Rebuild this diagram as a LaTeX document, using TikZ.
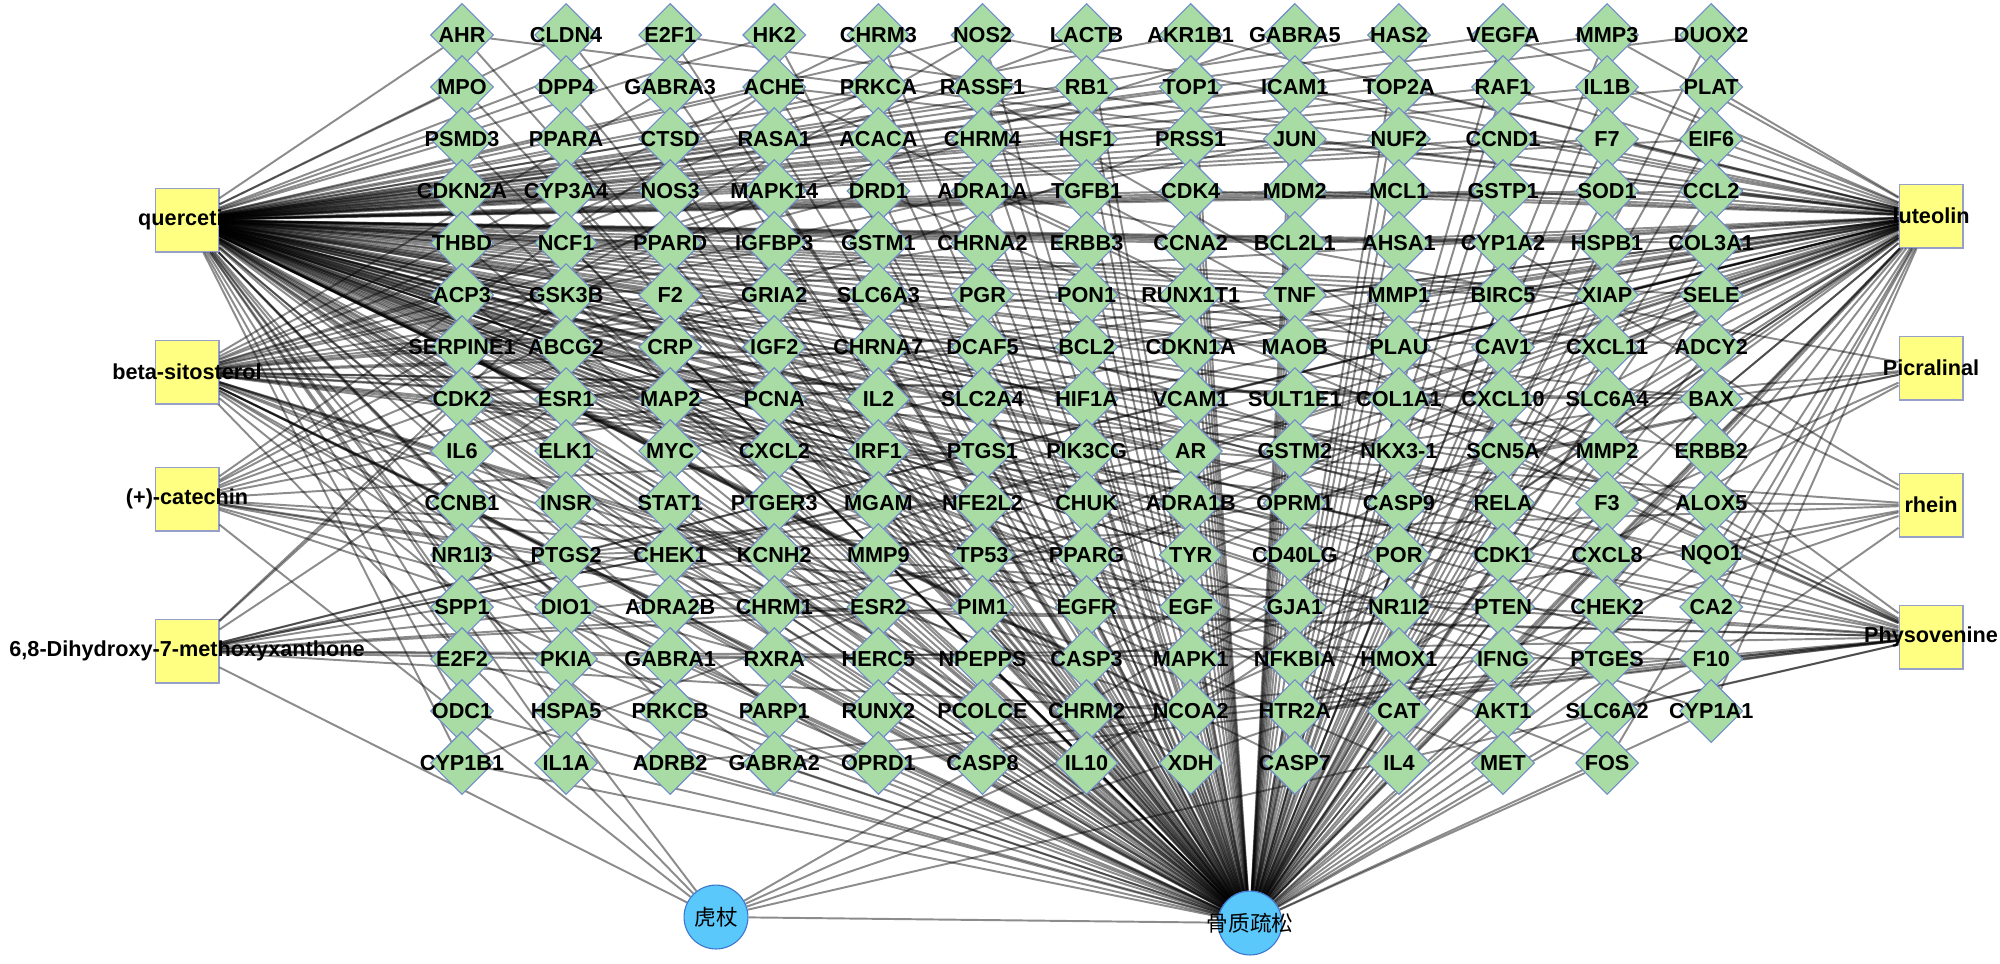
\documentclass[tikz,border=0pt]{standalone}
\usepackage{fontspec}
\setmainfont{Liberation Sans}
\newfontfamily\cjk{Noto Sans CJK SC}
\usetikzlibrary{shapes.geometric}
\pgfdeclarelayer{edgel}
\pgfdeclarelayer{diam}
\pgfdeclarelayer{lab}
\pgfsetlayers{main,edgel,diam,lab}
\definecolor{dgreen}{RGB}{168,220,164}
\definecolor{dborder}{RGB}{112,140,200}
\definecolor{cyel}{RGB}{255,255,130}
\definecolor{sqborder}{RGB}{150,160,200}
\definecolor{cblue}{RGB}{90,200,250}
\definecolor{bborder}{RGB}{60,120,210}
\tikzset{
  tgt/.style={diamond, draw=dborder, line width=0.4pt, fill=dgreen, minimum width=22.7pt, minimum height=22.7pt, inner sep=0pt},
  tlab/.style={font=\fontsize{7.8}{8}\selectfont\bfseries, inner sep=0pt},
  cmp/.style={rectangle, draw=sqborder, line width=0.4pt, fill=cyel, minimum size=23pt, inner sep=0pt},
  hub/.style={circle, draw=bborder, line width=0.4pt, fill=cblue, minimum size=23pt, inner sep=0pt},
  hlab/.style={font=\fontsize{7.8}{8}\selectfont\cjk, inner sep=0pt},
  edge/.style={draw=black, opacity=0.45, line width=0.7pt},
}
\def\allrows{1/{AHR,CLDN4,E2F1,HK2,CHRM3,NOS2,LACTB,AKR1B1,GABRA5,HAS2,VEGFA,MMP3,DUOX2},
2/{MPO,DPP4,GABRA3,ACHE,PRKCA,RASSF1,RB1,TOP1,ICAM1,TOP2A,RAF1,IL1B,PLAT},
3/{PSMD3,PPARA,CTSD,RASA1,ACACA,CHRM4,HSF1,PRSS1,JUN,NUF2,CCND1,F7,EIF6},
4/{CDKN2A,CYP3A4,NOS3,MAPK14,DRD1,ADRA1A,TGFB1,CDK4,MDM2,MCL1,GSTP1,SOD1,CCL2},
5/{THBD,NCF1,PPARD,IGFBP3,GSTM1,CHRNA2,ERBB3,CCNA2,BCL2L1,AHSA1,CYP1A2,HSPB1,COL3A1},
6/{ACP3,GSK3B,F2,GRIA2,SLC6A3,PGR,PON1,RUNX1T1,TNF,MMP1,BIRC5,XIAP,SELE},
7/{SERPINE1,ABCG2,CRP,IGF2,CHRNA7,DCAF5,BCL2,CDKN1A,MAOB,PLAU,CAV1,CXCL11,ADCY2},
8/{CDK2,ESR1,MAP2,PCNA,IL2,SLC2A4,HIF1A,VCAM1,SULT1E1,COL1A1,CXCL10,SLC6A4,BAX},
9/{IL6,ELK1,MYC,CXCL2,IRF1,PTGS1,PIK3CG,AR,GSTM2,NKX3-1,SCN5A,MMP2,ERBB2},
10/{CCNB1,INSR,STAT1,PTGER3,MGAM,NFE2L2,CHUK,ADRA1B,OPRM1,CASP9,RELA,F3,ALOX5},
11/{NR1I3,PTGS2,CHEK1,KCNH2,MMP9,TP53,PPARG,TYR,CD40LG,POR,CDK1,CXCL8,NQO1},
12/{SPP1,DIO1,ADRA2B,CHRM1,ESR2,PIM1,EGFR,EGF,GJA1,NR1I2,PTEN,CHEK2,CA2},
13/{E2F2,PKIA,GABRA1,RXRA,HERC5,NPEPPS,CASP3,MAPK1,NFKBIA,HMOX1,IFNG,PTGES,F10},
14/{ODC1,HSPA5,PRKCB,PARP1,RUNX2,PCOLCE,CHRM2,NCOA2,HTR2A,CAT,AKT1,SLC6A2,CYP1A1},
15/{CYP1B1,IL1A,ADRB2,GABRA2,OPRD1,CASP8,IL10,XDH,CASP7,IL4,MET,FOS}}
\begin{document}
\begin{tikzpicture}[x=0.36pt,y=-0.36pt]
\useasboundingbox (0,0) rectangle (2000,963);
% compounds (main layer)
\node[cmp] (q)   at (187,220) {};
\node[cmp] (bs)  at (187,372) {};
\node[cmp] (cat) at (187,499) {};
\node[cmp] (dhx) at (187,651) {};
\node[cmp] (lut) at (1931,216) {};
\node[cmp] (pic) at (1931,368) {};
\node[cmp] (rh)  at (1931,505) {};
\node[cmp] (phy) at (1931,637) {};
\node[tlab] at (q)   {quercetin};
\node[tlab] at (bs)  {beta-sitosterol};
\node[tlab] at (cat) {(+)-catechin};
\node[tlab] at (dhx) {6,8-Dihydroxy-7-methoxyxanthone};
\node[tlab] at (lut) {luteolin};
\node[tlab] at (pic) {Picralinal};
\node[tlab] at (rh)  {rhein};
\node[tlab] at (phy) {Physovenine};
% targets
\begin{pgfonlayer}{diam}
\foreach \r/\row in \allrows {
  \foreach \n [count=\c] in \row {
    \node[tgt] (\n) at ({462+(\c-1)*104.1},{35+(\r-1)*52}) {};
  }
}
\end{pgfonlayer}
\begin{pgfonlayer}{lab}
\foreach \r/\row in \allrows {
  \foreach \n in \row {
    \node[tlab] at (\n) {\n};
  }
}
\node[hub] (hz) at (716,917) {};
\node[hub] (gz) at (1250,923) {};
\node[hlab] at (hz) {虎杖};
\node[hlab] at (gz) {骨质疏松};
\end{pgfonlayer}
% edges
\begin{pgfonlayer}{edgel}
\foreach \r/\row in \allrows {
  \foreach \n in \row {
    \draw[edge] (gz) -- (\n);
  }
}
\foreach \t in {q,bs,cat,dhx,lut,pic,rh,phy,gz}
  \draw[edge] (hz) -- (\t);
\foreach \t in {AHR,CLDN4,E2F1,HK2,NOS2,AKR1B1,HAS2,VEGFA,MMP3,DUOX2,
  MPO,DPP4,ACHE,PRKCA,RASSF1,RB1,TOP1,ICAM1,TOP2A,RAF1,IL1B,PLAT,
  PSMD3,PPARA,CTSD,RASA1,ACACA,HSF1,PRSS1,JUN,NUF2,CCND1,F7,EIF6,
  CDKN2A,CYP3A4,NOS3,MAPK14,TGFB1,CDK4,MDM2,MCL1,GSTP1,SOD1,CCL2,
  THBD,NCF1,PPARD,IGFBP3,GSTM1,ERBB3,CCNA2,BCL2L1,AHSA1,CYP1A2,HSPB1,COL3A1,
  ACP3,GSK3B,F2,RUNX1T1,TNF,MMP1,BIRC5,XIAP,SELE,
  SERPINE1,ABCG2,CRP,IGF2,BCL2,CDKN1A,MAOB,PLAU,CAV1,CXCL11,ADCY2,
  CDK2,ESR1,MAP2,PCNA,IL2,HIF1A,VCAM1,SULT1E1,COL1A1,CXCL10,BAX,
  IL6,ELK1,MYC,CXCL2,IRF1,PTGS1,PIK3CG,AR,GSTM2,NKX3-1,MMP2,ERBB2,
  CCNB1,INSR,STAT1,PTGER3,NFE2L2,CHUK,CASP9,RELA,F3,ALOX5,
  NR1I3,PTGS2,CHEK1,KCNH2,MMP9,TP53,PPARG,TYR,CD40LG,POR,CDK1,CXCL8,NQO1,
  SPP1,DIO1,ESR2,PIM1,EGFR,EGF,GJA1,NR1I2,PTEN,CHEK2,CA2,
  E2F2,PKIA,HERC5,CASP3,MAPK1,NFKBIA,HMOX1,IFNG,PTGES,F10,
  ODC1,HSPA5,PRKCB,PARP1,RUNX2,PCOLCE,NCOA2,CAT,AKT1,CYP1A1,
  CYP1B1,IL1A,CASP8,IL10,XDH,CASP7,IL4,MET,FOS}
  \draw[edge] (q) -- (\t);
\foreach \t in {AHR,E2F1,NOS2,AKR1B1,VEGFA,MMP3,ACHE,ICAM1,TOP2A,RAF1,IL1B,PLAT,
  JUN,CCND1,F7,EIF6,CDK4,MDM2,MCL1,GSTP1,SOD1,CCL2,BCL2L1,AHSA1,CYP1A2,HSPB1,COL3A1,
  GSK3B,TNF,MMP1,BIRC5,XIAP,SELE,BCL2,CDKN1A,PLAU,CAV1,CXCL11,ADCY2,CDK2,ESR1,
  HIF1A,VCAM1,COL1A1,CXCL10,BAX,IL6,MYC,PTGS1,AR,MMP2,ERBB2,RELA,ALOX5,PTGS2,
  CHEK1,KCNH2,MMP9,TP53,PPARG,CXCL8,NQO1,PIM1,EGFR,CA2,CASP3,MAPK1,NFKBIA,HMOX1,
  IFNG,F10,NCOA2,AKT1,CYP1A1,IL10,IL4,FOS,CYP1B1}
  \draw[edge] (lut) -- (\t);
\foreach \t in {PGR,NCOA2,PTGS1,PTGS2,CHRM1,CHRM3,CHRM4,CHRM2,SLC6A4,SLC6A3,ADRA1A,
  ADRA1B,ADRA2B,ADRB2,CHRNA7,CHRNA2,OPRM1,OPRD1,GABRA1,GABRA2,GABRA3,GABRA5,BCL2,
  BAX,CASP3,CASP9,CASP8,JUN,PRKCA,MAP2,PON1,KCNH2,SCN5A,HTR2A,DRD1,GRIA2,RXRA,LACTB,SLC2A4}
  \draw[edge] (bs) -- (\t);
\foreach \t in {PTGS1,PTGS2,ESR1,ESR2,NOS2,PPARG,PRSS1,ACHE,GABRA1,CHRM1,RXRA,MAPK14,F2,KCNH2,DCAF5}
  \draw[edge] (cat) -- (\t);
\foreach \t in {PTGS2,PTGS1,ESR1,ESR2,AR,PPARG,NCOA2,KCNH2,CHEK1,PIM1,GSK3B,CDK2,PKIA,MGAM,NPEPPS,F10}
  \draw[edge] (dhx) -- (\t);
\foreach \t in {CHRM1,ADRA1A,SLC6A4,OPRM1,PTGS2,HTR2A}
  \draw[edge] (pic) -- (\t);
\foreach \t in {ALOX5,PTGS2,CDK2,BAX,F10,CYP1A2,CASP3,NQO1}
  \draw[edge] (rh) -- (\t);
\foreach \t in {ACHE,CHRM1,CHRM2,CHRM3,CHRM4,ADRA1A,ADRA1B,ADRA2B,ADRB2,SLC6A2,SLC6A3,
  SLC6A4,HTR2A,OPRM1,OPRD1,GABRA1,GABRA2,CHRNA7,DRD1,SCN5A,KCNH2,PTGS2,F10,CA2}
  \draw[edge] (phy) -- (\t);
\end{pgfonlayer}
\end{tikzpicture}
\end{document}
